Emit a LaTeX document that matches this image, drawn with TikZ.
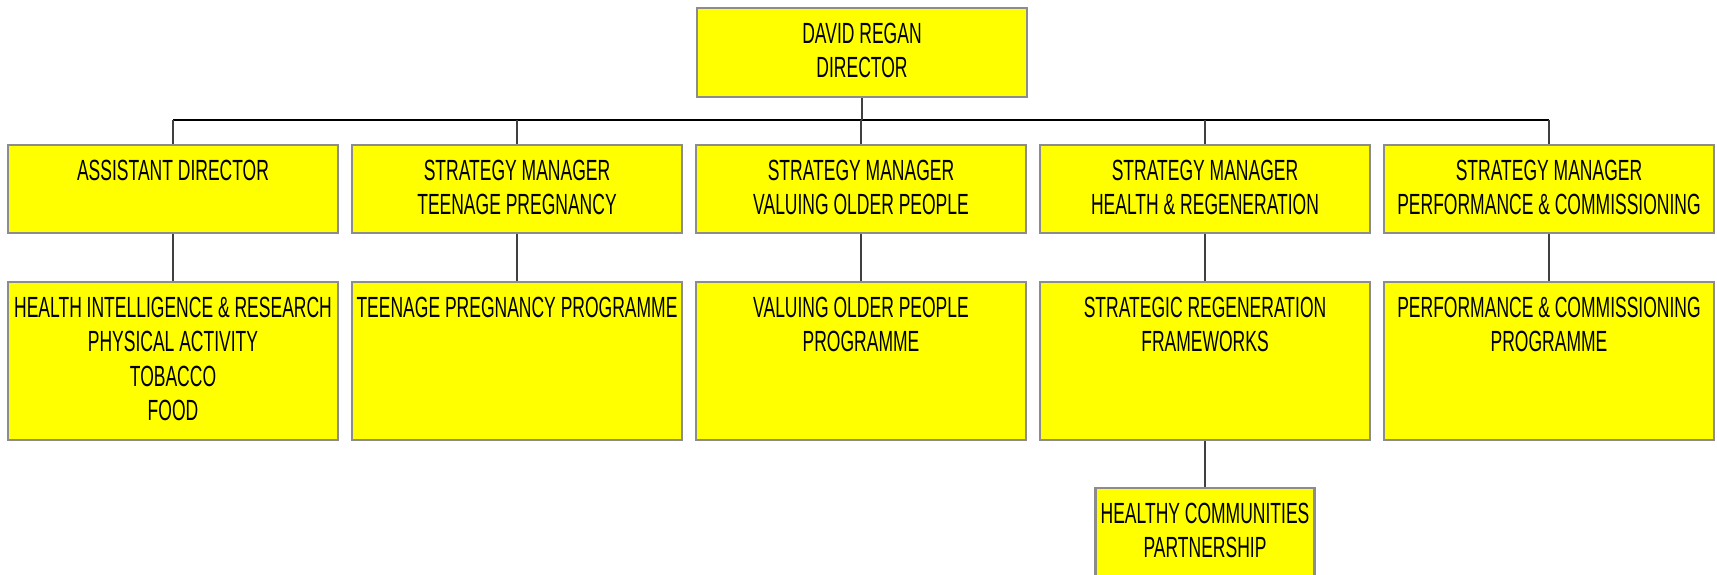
\documentclass[tikz,border=0pt]{standalone}
\usepackage{fontspec}
\setmainfont[FakeStretch=0.6]{Liberation Sans}
\usetikzlibrary{positioning}

\definecolor{boxyellow}{HTML}{FFFF00}
\definecolor{boxedge}{HTML}{8C8C8C}
\definecolor{linkgray}{HTML}{404040}

% text set at the top of a box
\newcommand{\orgtext}[3]{\parbox[t][#2][t]{#1}{\vspace*{4.3pt}\centering #3}}

\begin{document}
\begin{tikzpicture}[font=\fontsize{8.3}{9.8}\selectfont]

        \useasboundingbox (0,0) rectangle (17.17,-5.75);

        \begin{scope}[every node/.style={draw=boxedge,line width=0.6pt,fill=boxyellow,inner sep=0pt}]
          \node (dir) at (8.62,-0.525) {\orgtext{3.30cm}{0.89cm}{DAVID REGAN\\DIRECTOR}};
          \node (ad)  at (1.73,-1.89)  {\orgtext{3.30cm}{0.88cm}{ASSISTANT DIRECTOR}};
          \node (tp)  at (5.17,-1.89)  {\orgtext{3.30cm}{0.88cm}{STRATEGY MANAGER\\TEENAGE PREGNANCY}};
          \node (vo)  at (8.61,-1.89)  {\orgtext{3.30cm}{0.88cm}{STRATEGY MANAGER\\VALUING OLDER PEOPLE}};
          \node (hr)  at (12.05,-1.89) {\orgtext{3.30cm}{0.88cm}{STRATEGY MANAGER\\HEALTH \& REGENERATION}};
          \node (pc)  at (15.49,-1.89) {\orgtext{3.30cm}{0.88cm}{STRATEGY MANAGER\\PERFORMANCE \& COMMISSIONING}};
          \node (hir) at (1.73,-3.61)  {\orgtext{3.30cm}{1.58cm}{HEALTH INTELLIGENCE \& RESEARCH\\PHYSICAL ACTIVITY\\TOBACCO\\FOOD}};
          \node (tpp) at (5.17,-3.61)  {\orgtext{3.30cm}{1.58cm}{TEENAGE PREGNANCY PROGRAMME}};
          \node (vop) at (8.61,-3.61)  {\orgtext{3.30cm}{1.58cm}{VALUING OLDER PEOPLE\\PROGRAMME}};
          \node (srf) at (12.05,-3.61) {\orgtext{3.30cm}{1.58cm}{STRATEGIC REGENERATION\\FRAMEWORKS}};
          \node (pcp) at (15.49,-3.61) {\orgtext{3.30cm}{1.58cm}{PERFORMANCE \& COMMISSIONING\\PROGRAMME}};
          \node (hcp) at (12.05,-5.34) {\orgtext{2.19cm}{0.92cm}{HEALTHY COMMUNITIES\\PARTNERSHIP}};
        \end{scope}

        \coordinate (busl) at (1.73,-1.20);
        \coordinate (busr) at (15.49,-1.20);

        \draw[line width=0.6pt] (busl) -- (busr);

        \begin{scope}[every edge/.style={draw=linkgray,line width=0.5pt}]
          \path (dir) edge (dir |- busl);
          \path (ad)  edge (ad |- busl);
          \path (tp)  edge (tp |- busl);
          \path (vo)  edge (vo |- busl);
          \path (hr)  edge (hr |- busl);
          \path (pc)  edge (pc |- busl);
          \path (ad)  edge (hir);
          \path (tp)  edge (tpp);
          \path (vo)  edge (vop);
          \path (hr)  edge (srf);
          \path (pc)  edge (pcp);
          \path (srf) edge (hcp);
        \end{scope}

      \end{tikzpicture}
\end{document}
